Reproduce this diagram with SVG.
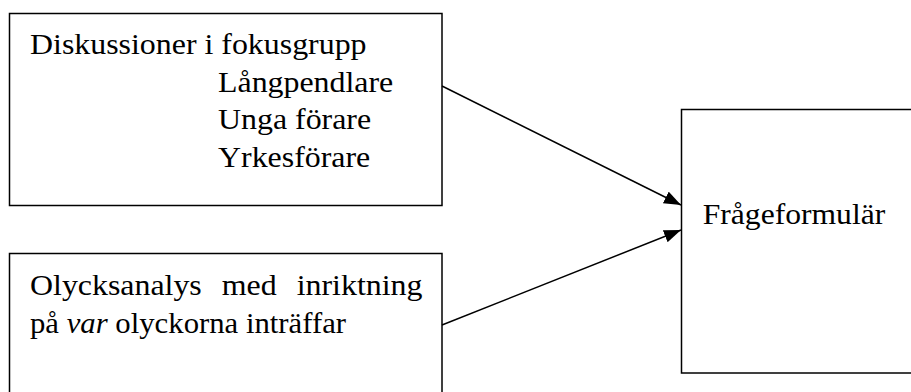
<svg xmlns="http://www.w3.org/2000/svg" width="911" height="392" viewBox="0 0 911 392">
<style>
.box{fill:#fff;stroke:#000;stroke-width:1.5}
.t{font-family:"Liberation Serif","Times New Roman",Times,serif;font-size:29px;fill:#000}
.edge{stroke:#000;stroke-width:1.5;fill:none}
</style>
<defs>
<marker id="ah" markerUnits="userSpaceOnUse" markerWidth="18" markerHeight="14" refX="17" refY="6.5" orient="auto">
<path d="M0,0 L17,6.5 L0,13 z" fill="#000"/>
</marker>
</defs>
<rect width="911" height="392" fill="#fff"/>
<g id="n1">
<rect class="box" x="9.5" y="13.5" width="432.5" height="192"/>
<text class="t" transform="translate(30,54) scale(1.1,1)">Diskussioner i fokusgrupp</text>
<text class="t" transform="translate(218,91.7) scale(1.1,1)">Långpendlare</text>
<text class="t" transform="translate(218,129.3) scale(1.1,1)">Unga förare</text>
<text class="t" transform="translate(218,166.7) scale(1.1,1)">Yrkesförare</text>
</g>
<g id="n2">
<rect class="box" x="9.5" y="253.5" width="432.5" height="150"/>
<text class="t" transform="translate(30,295) scale(1.1,1)">Olycksanalys</text>
<text class="t" transform="translate(221.7,295) scale(1.1,1)">med</text>
<text class="t" transform="translate(296.7,295) scale(1.1,1)">inriktning</text>
<text class="t" transform="translate(30,332.7) scale(1.06,1)">på <tspan font-style="italic">var</tspan> olyckorna inträffar</text>
</g>
<g id="n3">
<rect class="box" x="681.5" y="109.5" width="240" height="263.5"/>
<text class="t" transform="translate(702.7,224) scale(1.09,1)">Frågeformulär</text>
</g>
<g id="edges">
<line class="edge" x1="442" y1="86" x2="681" y2="205" marker-end="url(#ah)"/>
<line class="edge" x1="442" y1="325" x2="681" y2="230" marker-end="url(#ah)"/>
</g>
</svg>
